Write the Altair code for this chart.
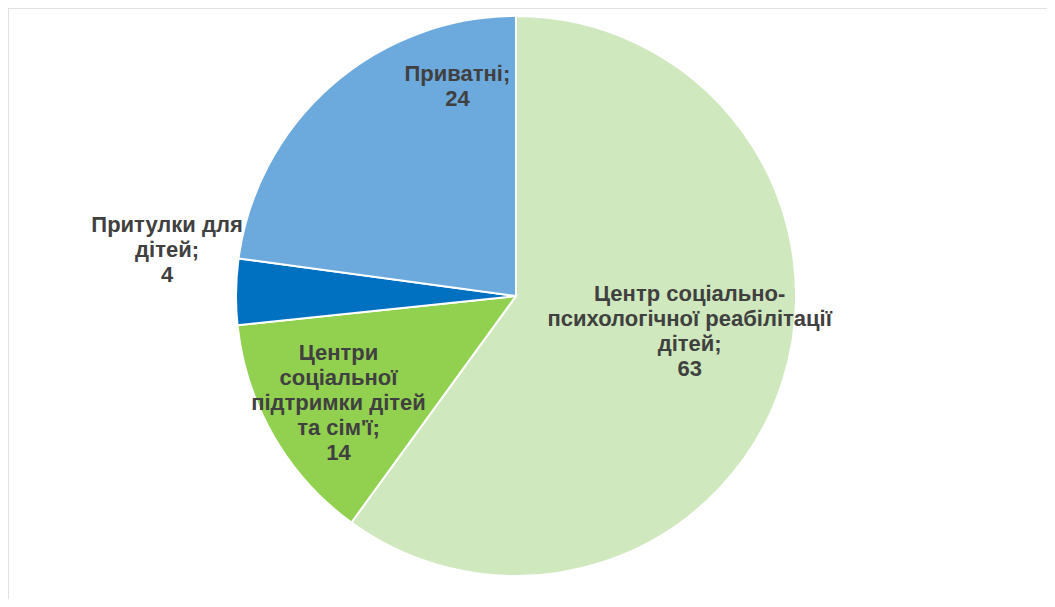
import altair as alt
import pandas as pd

categories = [
    "Центр соціально-психологічної реабілітації дітей",
    "Центри соціальної підтримки дітей та сім'ї",
    "Притулки для дітей",
    "Приватні",
]
wrapped = [
    "Центр соціально-\nпсихологічної реабілітації\nдітей",
    "Центри\nсоціальної\nпідтримки дітей\nта сім'ї",
    "Притулки для\nдітей",
    "Приватні",
]
values = [63, 14, 4, 24]
colors = ["#CFE8BD", "#92D050", "#0070C0", "#6CAADD"]

df = pd.DataFrame({
    "cat": categories,
    "value": values,
    "order": list(range(len(categories))),
    "label": [f"{w};\n{v}" for w, v in zip(wrapped, values)],
})

base = alt.Chart(df).encode(
    theta=alt.Theta("value:Q", stack=True),
    order=alt.Order("order:Q"),
)

pie = base.mark_arc(outerRadius=280, stroke="white", strokeWidth=2).encode(
    color=alt.Color("cat:N", scale=alt.Scale(domain=categories, range=colors), legend=None)
)

# label placement tweaks per slice: (radius, dx, dy)
placement = [(150, 31, -48), (205, 0, -46), (350, 1, -66), (200, 73, -71)]

labels = []
for cat, (r, dx, dy) in zip(categories, placement):
    labels.append(
        base.mark_text(
            radius=r, dx=dx, dy=dy, font="Liberation Sans", fontWeight="bold",
            fontSize=22, lineHeight=25, lineBreak="\n", color="#404040",
            align="center", baseline="middle",
        ).encode(
            text="label:N",
            opacity=alt.condition(alt.datum.cat == cat, alt.value(1), alt.value(0)),
        )
    )

frame = alt.Chart(pd.DataFrame({"a": [0]})).mark_rect(
    fill=None, stroke="#D9D9D9", strokeWidth=1.5
).encode(
    x=alt.value(0), y=alt.value(0), x2=alt.value(1200), y2=alt.value(800)
)

chart = alt.layer(frame, pie, *labels).properties(
    width=1016, height=576,
    padding={"left": 0, "top": 0, "right": 23, "bottom": 15},
    autosize=alt.AutoSizeParams(type="none"),
).configure_view(stroke=None)

chart.save("out.html", embed_options={"renderer": "svg", "actions": False})
